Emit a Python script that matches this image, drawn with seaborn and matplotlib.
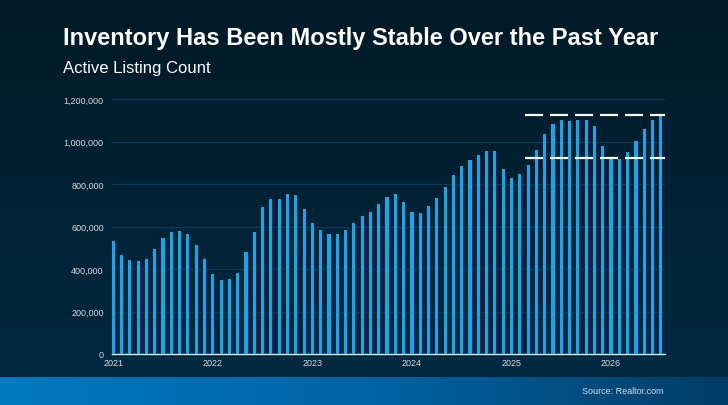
import numpy as np
import pandas as pd
import matplotlib
matplotlib.use("Agg")
import matplotlib.pyplot as plt
import seaborn as sns
from matplotlib.colors import LinearSegmentedColormap

# data (monthly active listings)
listings = [533, 466, 442, 438, 447, 494, 546, 576, 579, 565, 515, 447,
            378, 348, 355, 381, 480, 573, 692, 728, 731, 751, 750, 681,
            618, 582, 563, 563, 582, 615, 649, 668, 704, 739, 755, 714,
            667, 664, 695, 734, 786, 841, 883, 911, 936, 954, 954, 872,
            830, 847, 891, 958, 1035, 1081, 1101, 1096, 1101, 1101, 1073, 977,
            918, 916, 949, 1004, 1057, 1103, 1118]
listings = [v * 1000 for v in listings]
months = [f"m{i:02d}" for i in range(len(listings))]
year_labels = ["2021", "2022", "2023", "2024", "2025", "2026"]
band_low = 921000
band_high = 1125000
band_start = 49.6

df = pd.DataFrame({"month": months, "listings": listings})

sns.set_theme(style="dark")
plt.rcParams["font.family"] = ["Liberation Sans", "DejaVu Sans"]
plt.rcParams["lines.scale_dashes"] = False

fig = plt.figure(figsize=(7.28, 4.06), dpi=100)

# background gradient
bg = fig.add_axes([0, 0, 1, 1], zorder=0)
grad = np.linspace(0, 1, 256).reshape(-1, 1)
bg_cmap = LinearSegmentedColormap.from_list("bg", ["#001a27", "#002a42"])
bg.imshow(grad, aspect="auto", cmap=bg_cmap, extent=[0, 1, 0, 1], origin="upper")
bg.set_axis_off()

# bottom band
band = fig.add_axes([0, 0, 1, 28 / 406], zorder=1)
hgrad = np.linspace(0, 1, 256).reshape(1, -1)
band_cmap = LinearSegmentedColormap.from_list("band", ["#0078c2", "#0064a6", "#003d66"])
band.imshow(hgrad, aspect="auto", cmap=band_cmap, extent=[0, 1, 0, 1])
band.set_axis_off()

ax = fig.add_axes([112 / 728, 51 / 406, 553 / 728, 255 / 406], zorder=2)
ax.patch.set_alpha(0)

sns.barplot(data=df, x="month", y="listings", color="#10a8ee", width=0.38,
            saturation=1, linewidth=0, edgecolor="none", ax=ax, zorder=3)

ax.set_xlim(-0.15, 66.5)
ax.set_ylim(0, 1200000)
ax.set_yticks(range(0, 1200001, 200000))
ax.set_yticklabels([f"{v:,}" for v in range(0, 1200001, 200000)])
ax.set_xticks(range(0, 61, 12))
ax.set_xticklabels(year_labels)
ax.tick_params(axis="both", colors="#d5dde5", labelsize=6.5, length=0)
ax.tick_params(axis="y", pad=6)
ax.tick_params(axis="x", pad=3)
ax.set_xlabel("")
ax.set_ylabel("")
ax.grid(axis="y", color="#0a3a58", linewidth=0.9, zorder=0)
ax.grid(axis="x", visible=False)
for s in ["top", "right", "left"]:
    ax.spines[s].set_visible(False)
ax.spines["bottom"].set_color("#e6e6e6")
ax.spines["bottom"].set_linewidth(1.0)

for yv in [band_low, band_high]:
    ax.plot([band_start, 66.5], [yv, yv], color="white", linewidth=1.6,
            linestyle=(0, (13, 5)), solid_capstyle="butt", zorder=5)

fig.text(63 / 728, 1 - 38 / 406, "Inventory Has Been Mostly Stable Over the Past Year",
         color="white", fontsize=17, fontweight="bold", va="center", ha="left", zorder=5)
fig.text(63 / 728, 1 - 68 / 406, "Active Listing Count",
         color="white", fontsize=12, va="center", ha="left", zorder=5)
fig.text(664 / 728, 14 / 406, "Source: Realtor.com",
         color="#d5dde5", fontsize=6.5, va="center", ha="right", zorder=5)

fig.savefig("out.png", dpi=100)
